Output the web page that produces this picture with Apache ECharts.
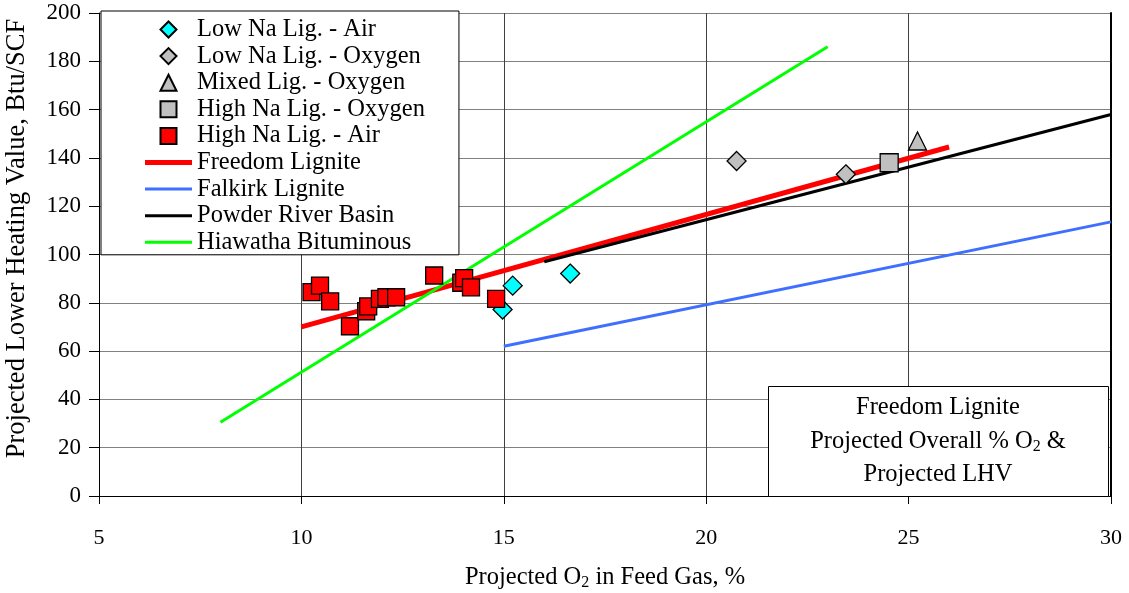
<!DOCTYPE html>
<html>
<head>
<meta charset="utf-8">
<script src="https://cdn.jsdelivr.net/npm/echarts@6/dist/echarts.min.js"></script>
<style>html,body{margin:0;padding:0;background:#fff}#c{width:1129px;height:593px}</style>
</head>
<body>
<div id="c"></div>
<script>
var FONT = "'Liberation Serif','Times New Roman',serif";
var xTicks = [5, 10, 15, 20, 25, 30];
var yTicks = [0, 20, 40, 60, 80, 100, 120, 140, 160, 180, 200];

var lowNaAir = [[14.97, 77.2], [15.22, 87.1], [16.64, 92.1]];
var lowNaOxygen = [[20.75, 138.7], [23.45, 133.2]];
var mixedOxygen = [[25.22, 147]];
var highNaOxygen = [[24.52, 138]];
var highNaAir = [[10.25, 84.4], [10.46, 87.1], [10.71, 80.6], [11.2, 70.3], [11.6, 76.5], [11.65, 78.5],
  [11.94, 81.6], [12.1, 82.3], [12.34, 82.3], [13.28, 91.3], [13.95, 88.3], [14.02, 90.2], [14.19, 86.4], [14.81, 81.6]];
var freedomLignite = [[10, 70], [26, 144.5]];
var falkirkLignite = [[15, 62], [30, 113.5]];
var powderRiverBasin = [[16, 97], [30, 158]];
var hiawathaBituminous = [[8, 30.5], [23, 186]];

var chart = echarts.init(document.getElementById('c'));
function scatter(name, data, symbol, color, size) {
  return { name: name, type: 'scatter', data: data, symbol: symbol, symbolSize: size, z: 5,
    itemStyle: { color: color, borderColor: '#000', borderWidth: 1.3, opacity: 1 } };
}
function line(name, data, color, w) {
  return { name: name, type: 'line', data: data, symbol: 'none', z: 3, silent: true,
    lineStyle: { color: color, width: w }, itemStyle: { color: color } };
}
var names = ['Low Na Lig. - Air', 'Low Na Lig. - Oxygen', 'Mixed Lig. - Oxygen', 'High Na Lig. - Oxygen',
  'High Na Lig. - Air', 'Freedom Lignite', 'Falkirk Lignite', 'Powder River Basin', 'Hiawatha Bituminous'];
var icons = [
  'path://M8,0L16,8L8,16L0,8Z',
  'path://M8,0L16,8L8,16L0,8Z',
  'path://M8,0L16,16L0,16Z',
  'path://M0,0L16,0L16,16L0,16Z',
  'path://M0,0L16,0L16,16L0,16Z',
  'path://M0,0L47,0L47,5L0,5Z',
  'path://M0,0L47,0L47,3L0,3Z',
  'path://M0,0L47,0L47,3L0,3Z',
  'path://M0,0L47,0L47,3L0,3Z'
];
var legendData = names.map(function (n, i) {
  var d = { name: n, icon: icons[i] };
  if (i >= 5) d.itemStyle = { borderWidth: 0 };
  return d;
});
chart.setOption({
  animation: false,
  backgroundColor: '#fff',
  grid: { left: 99, right: 18, top: 13, bottom: 97, outerBoundsMode: 'none', containLabel: false },
  xAxis: {
    type: 'value', min: xTicks[0], max: xTicks[xTicks.length - 1], interval: 5,
    name: '{a|Projected O}{s|2}{a| in Feed Gas, %}', nameLocation: 'middle', nameGap: 69,
    nameTextStyle: { rich: { a: { fontFamily: FONT, fontSize: 24.5, color: '#000', lineHeight: 26 },
      s: { fontFamily: FONT, fontSize: 16, color: '#000', lineHeight: 26, verticalAlign: 'bottom', padding: [14, 0, 0, 0] } } },
    axisLine: { lineStyle: { color: '#000', width: 1 } },
    axisTick: { show: true, inside: false, length: 8, lineStyle: { color: '#000' } },
    axisLabel: { fontFamily: FONT, fontSize: 22, color: '#000', margin: 31 },
    splitLine: { show: true, lineStyle: { color: '#404040', width: 1 } }
  },
  yAxis: [{
    type: 'value', min: yTicks[0], max: yTicks[yTicks.length - 1], interval: 20,
    name: 'Projected Lower Heating Value, Btu/SCF', nameLocation: 'middle', nameGap: 68,
    nameTextStyle: { fontFamily: FONT, fontSize: 26.5, color: '#000', padding: [0, 0, 0, 32] },
    axisLine: { show: true, lineStyle: { color: '#000', width: 1 } },
    axisTick: { show: true, length: 10, lineStyle: { color: '#000' } },
    axisLabel: { fontFamily: FONT, fontSize: 23, color: '#000', margin: 18 },
    splitLine: { show: true, lineStyle: { color: '#808080', width: 1 } }
  }, {
    type: 'value', min: 0, max: 200, interval: 20, position: 'right',
    axisLine: { show: true, lineStyle: { color: '#000', width: 2 } },
    axisTick: { show: false }, axisLabel: { show: false }, splitLine: { show: false }
  }],
  legend: {
    orient: 'vertical', left: 101, top: 11, padding: [6, 34, 0, 44],
    itemWidth: 47, itemHeight: 16, itemGap: 1.6, symbolKeepAspect: true,
    backgroundColor: '#fff', borderColor: '#000', borderWidth: 1, borderRadius: 0,
    textStyle: { fontFamily: FONT, fontSize: 24.5, color: '#000', lineHeight: 24 },
    data: legendData, selectedMode: false, z: 10
  },
  series: [
    scatter(names[0], lowNaAir, 'diamond', '#00FFFF', 19),
    scatter(names[1], lowNaOxygen, 'diamond', '#C0C0C0', 19),
    scatter(names[2], mixedOxygen, 'triangle', '#C0C0C0', 18),
    scatter(names[3], highNaOxygen, 'rect', '#C0C0C0', 18),
    scatter(names[4], highNaAir, 'rect', '#FF0000', 17),
    line(names[5], freedomLignite, '#FF0000', 5),
    line(names[6], falkirkLignite, '#3F6FFF', 3),
    line(names[7], powderRiverBasin, '#000000', 3),
    line(names[8], hiawathaBituminous, '#00FF00', 3)
  ],
  graphic: [
    { type: 'rect', left: 768, top: 386, z: 20, shape: { width: 340, height: 110 },
      style: { fill: '#fff', stroke: '#000', lineWidth: 1 } },
    { type: 'text', x: 938, y: 408, z: 21,
      style: { text: 'Freedom Lignite', fontFamily: FONT, fontSize: 24.5, fill: '#000', align: 'center', verticalAlign: 'middle' } },
    { type: 'text', x: 938, y: 442, z: 21,
      style: { text: '{a|Projected Overall % O}{s|2}{a| &}', align: 'center', verticalAlign: 'middle',
        rich: { a: { fontFamily: FONT, fontSize: 24.5, fill: '#000', lineHeight: 26 },
          s: { fontFamily: FONT, fontSize: 16, fill: '#000', lineHeight: 26, verticalAlign: 'bottom', padding: [14, 0, 0, 0] } } } },
    { type: 'text', x: 938, y: 475, z: 21,
      style: { text: 'Projected LHV', fontFamily: FONT, fontSize: 24.5, fill: '#000', align: 'center', verticalAlign: 'middle' } }
  ]
});
</script>
</body>
</html>
